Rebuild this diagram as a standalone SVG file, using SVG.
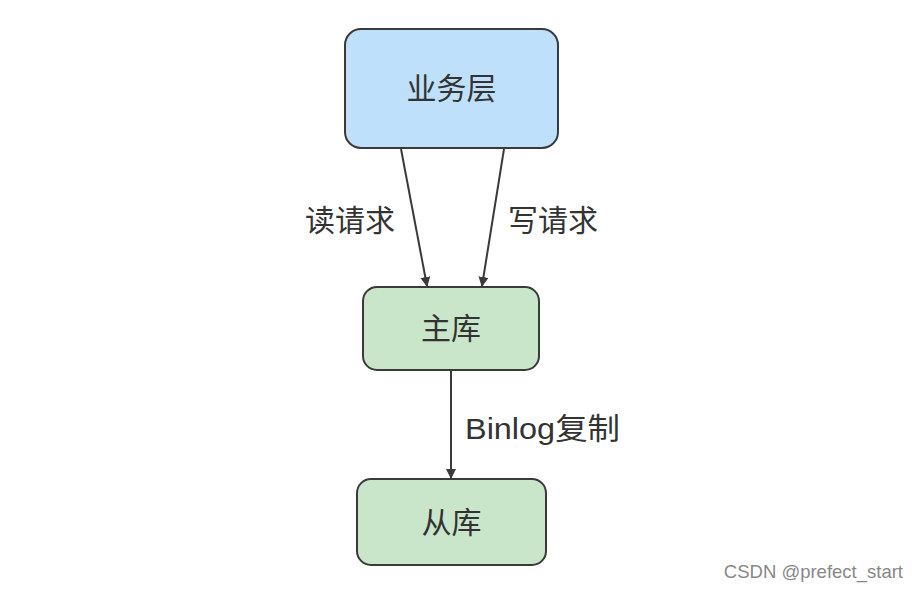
<svg xmlns="http://www.w3.org/2000/svg" width="918" height="591" viewBox="0 0 918 591">
<style>
.t{font-family:"Liberation Sans","Noto Sans CJK SC",sans-serif;font-size:30px;fill:#333;}
.n{stroke:#3a3a3a;stroke-width:2;}
.c{stroke:#3a3a3a;stroke-width:2;fill:none;marker-end:url(#a);}
</style>
<defs><marker id="a" markerWidth="10" markerHeight="10" refX="9" refY="5" orient="auto" markerUnits="userSpaceOnUse"><path d="M0,0 L10,5 L0,10 Z" fill="#3a3a3a"/></marker></defs>
<rect width="918" height="591" fill="#fff"/>
<g id="connectors">
<line class="c" x1="401" y1="149" x2="427" y2="286"/>
<line class="c" x1="504" y1="149" x2="482" y2="286"/>
<line class="c" x1="451" y1="371" x2="451" y2="478"/>
<text class="t" x="305" y="231">读请求</text>
<text class="t" x="508" y="231">写请求</text>
<text class="t" x="465" y="439" textLength="155" lengthAdjust="spacingAndGlyphs">Binlog复制</text>
</g>
<g id="n1"><rect class="n" x="345" y="29" width="213" height="119" rx="16" fill="#bfe0fa"/><text class="t" x="451.5" y="99" text-anchor="middle">业务层</text></g>
<g id="n2"><rect class="n" x="363" y="287" width="176" height="83" rx="14" fill="#c9e6ca"/><text class="t" x="451" y="339" text-anchor="middle">主库</text></g>
<g id="n3"><rect class="n" x="357" y="479" width="189" height="86" rx="14" fill="#c9e6ca"/><text class="t" x="451.5" y="533" text-anchor="middle">从库</text></g>
<text x="903" y="578" text-anchor="end" style="font-family:'Liberation Sans',sans-serif;font-size:18.5px;fill:#888">CSDN @prefect_start</text>
</svg>
